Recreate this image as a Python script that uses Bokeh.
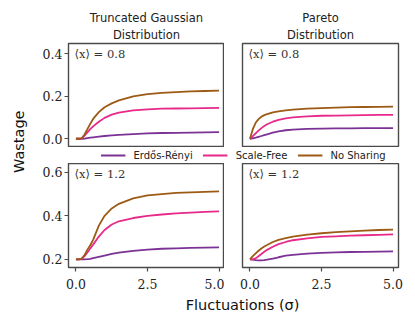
import math
from bokeh.plotting import figure
from bokeh.layouts import row, column
from bokeh.models import Range1d, Title, Label, Legend, LegendItem, FixedTicker, NumeralTickFormatter
from bokeh.embed import file_html
from bokeh.resources import INLINE

sigma = [0, 0.1, 0.2, 0.3, 0.4, 0.5, 0.6, 0.8, 1.0, 1.25, 1.5, 2.0, 2.5, 3.0, 3.5, 4.0, 4.5, 5.0]

# Truncated Gaussian, <x> = 0.8
tg08_er = [0, 0, 0, 0.001, 0.003, 0.005, 0.007, 0.010, 0.013, 0.016, 0.018, 0.022, 0.025, 0.027, 0.028, 0.029, 0.030, 0.031]
tg08_sf = [0, 0, 0.002, 0.015, 0.030, 0.045, 0.058, 0.080, 0.098, 0.113, 0.123, 0.133, 0.138, 0.141, 0.142, 0.143, 0.144, 0.145]
tg08_ns = [0, 0, 0.002, 0.020, 0.045, 0.070, 0.093, 0.125, 0.148, 0.166, 0.180, 0.199, 0.209, 0.215, 0.219, 0.222, 0.224, 0.226]
# Pareto, <x> = 0.8
pa08_er = [0, 0.002, 0.005, 0.009, 0.013, 0.017, 0.021, 0.029, 0.035, 0.040, 0.043, 0.046, 0.048, 0.049, 0.049, 0.050, 0.050, 0.050]
pa08_sf = [0, 0.012, 0.025, 0.038, 0.050, 0.060, 0.068, 0.080, 0.089, 0.096, 0.100, 0.105, 0.108, 0.109, 0.110, 0.111, 0.112, 0.112]
pa08_ns = [0, 0.045, 0.075, 0.092, 0.103, 0.111, 0.116, 0.124, 0.129, 0.133, 0.137, 0.141, 0.144, 0.146, 0.148, 0.149, 0.150, 0.151]
# Truncated Gaussian, <x> = 1.2
tg12_er = [0.2, 0.2, 0.2, 0.2, 0.201, 0.203, 0.206, 0.212, 0.218, 0.225, 0.231, 0.239, 0.245, 0.249, 0.251, 0.253, 0.254, 0.255]
tg12_sf = [0.2, 0.2, 0.203, 0.215, 0.232, 0.250, 0.268, 0.305, 0.335, 0.360, 0.375, 0.390, 0.400, 0.406, 0.411, 0.415, 0.418, 0.420]
tg12_ns = [0.2, 0.2, 0.203, 0.220, 0.245, 0.265, 0.290, 0.355, 0.400, 0.434, 0.455, 0.480, 0.494, 0.500, 0.505, 0.508, 0.510, 0.512]
# Pareto, <x> = 1.2
pa12_er = [0.2, 0.199, 0.197, 0.196, 0.196, 0.197, 0.199, 0.204, 0.210, 0.217, 0.221, 0.227, 0.230, 0.232, 0.234, 0.235, 0.236, 0.237]
pa12_sf = [0.2, 0.2, 0.205, 0.215, 0.225, 0.235, 0.244, 0.258, 0.270, 0.280, 0.288, 0.297, 0.303, 0.306, 0.309, 0.311, 0.313, 0.315]
pa12_ns = [0.2, 0.215, 0.228, 0.240, 0.250, 0.259, 0.266, 0.280, 0.290, 0.298, 0.305, 0.314, 0.320, 0.325, 0.329, 0.332, 0.335, 0.337]

series_names = ["Erdős-Rényi", "Scale-Free", "No Sharing"]
colors = ["#7b3294", "#e7298a", "#9c5a14"]
x_ticks = [0, 2.5, 5.0]
y_ticks_top = [0.0, 0.2, 0.4]
y_ticks_bot = [0.2, 0.4, 0.6]
col_titles = [["Truncated Gaussian", "Distribution"], ["Pareto", "Distribution"]]
row_notes = ["⟨x⟩ = 0.8", "⟨x⟩ = 1.2"]

XR = (-0.26, 5.19)
YR_TOP = (-0.041, 0.447)
YR_BOT = (0.163, 0.640)
FW, FH = 156, 104
FRAME_COLOR = "#4a4a4a"
TICK_FONT = "DejaVu Serif"
SANS = "DejaVu Sans"


def panel(ys, yr, yticks, left, top, bottom, title, note):
    p = figure(frame_width=FW, frame_height=FH, output_backend="svg", toolbar_location=None,
               x_range=Range1d(*XR), y_range=Range1d(*yr),
               x_axis_location="below" if bottom else None,
               y_axis_location="left" if left else None,
               min_border_left=32 if left else 18, min_border_right=0 if left else 12,
               min_border_top=43 if top else 0, min_border_bottom=30 if bottom else 0)
    p.grid.visible = False
    p.outline_line_color = FRAME_COLOR
    p.outline_line_width = 1.4
    p.background_fill_color = "white"
    for ax, ticks in ([p.xaxis, x_ticks] if bottom else [None, None],
                      [p.yaxis, yticks] if left else [None, None]):
        if ax is None:
            continue
        ax.ticker = FixedTicker(ticks=ticks)
        ax.formatter = NumeralTickFormatter(format="0.0")
        ax.axis_line_color = None
        ax.major_tick_out = 4
        ax.major_tick_in = 0
        ax.minor_tick_line_color = None
        ax.major_tick_line_color = FRAME_COLOR
        ax.major_tick_line_width = 1.2
        ax.major_label_text_font = TICK_FONT
        ax.major_label_text_font_size = "12.5px"
        ax.major_label_text_color = "#222222"
    if bottom:
        p.xaxis.major_label_standoff = 7
    if left:
        p.yaxis.major_label_standoff = 2
    for y, c in zip(ys, colors):
        p.line(sigma, y, line_color=c, line_width=1.8)
    p.add_layout(Label(x=XR[0], y=yticks[-1] if top else 0.59, x_offset=6, text=note,
                       text_font=TICK_FONT, text_font_size="11.5px", text_color="#333333",
                       text_baseline="middle"))
    if title:
        p.add_layout(Title(text=title[1], align="center", text_font=SANS, text_font_size="11.5px",
                           text_font_style="normal", text_color="#222222", standoff=3), "above")
        p.add_layout(Title(text=title[0], align="center", text_font=SANS, text_font_size="11.5px",
                           text_font_style="normal", text_color="#222222", standoff=0), "above")
    return p


tl = panel([tg08_er, tg08_sf, tg08_ns], YR_TOP, y_ticks_top, True, True, False, col_titles[0], row_notes[0])
tr = panel([pa08_er, pa08_sf, pa08_ns], YR_TOP, y_ticks_top, False, True, False, col_titles[1], row_notes[0])
bl = panel([tg12_er, tg12_sf, tg12_ns], YR_BOT, y_ticks_bot, True, False, True, None, row_notes[1])
br = panel([pa12_er, pa12_sf, pa12_ns], YR_BOT, y_ticks_bot, False, False, True, None, row_notes[1])

# legend strip between the rows
lg = figure(frame_width=334, frame_height=16, output_backend="svg", toolbar_location=None,
            x_range=Range1d(0, 1), y_range=Range1d(0, 1), x_axis_location=None, y_axis_location=None,
            min_border_left=40, min_border_right=0, min_border_top=0, min_border_bottom=0)
lg.grid.visible = False
lg.outline_line_color = None
items = []
for name, y, c in zip(series_names, [tg08_er, tg08_sf, tg08_ns], colors):
    r = lg.line(sigma, y, line_color=c, line_width=1.8)
    r.visible = False
    items.append(LegendItem(label=name, renderers=[r]))
legend = Legend(items=items, orientation="horizontal", location="center",
                glyph_width=25, glyph_height=12, label_height=12, label_standoff=8, spacing=10,
                padding=0, margin=0, border_line_color=None, background_fill_alpha=0,
                label_text_font=SANS, label_text_font_size="10px", label_text_color="#222222")
lg.add_layout(legend, "center")

# shared x label
xl = figure(frame_width=374, frame_height=24, output_backend="svg", toolbar_location=None,
            x_range=Range1d(0, 1), y_range=Range1d(0, 1), x_axis_location=None, y_axis_location=None,
            min_border=0)
xl.grid.visible = False
xl.outline_line_color = None
xl.add_layout(Label(x=0.444, y=0.67, text="Fluctuations (σ)", text_align="center", text_baseline="middle",
                    text_font=SANS, text_font_size="14.5px", text_color="#111111"))

# shared y label
yl = figure(frame_width=36, frame_height=321, output_backend="svg", toolbar_location=None,
            x_range=Range1d(0, 1), y_range=Range1d(0, 1), x_axis_location=None, y_axis_location=None,
            min_border=0)
yl.grid.visible = False
yl.outline_line_color = None
yl.add_layout(Label(x=0.5, y=0.56, text="Wastage", angle=math.pi / 2, text_align="center",
                    text_baseline="middle", text_font=SANS, text_font_size="14.5px", text_color="#111111"))

layout = row(yl, column(row(tl, tr), lg, row(bl, br), xl))

open("out.html", "w").write(file_html(layout, INLINE))
